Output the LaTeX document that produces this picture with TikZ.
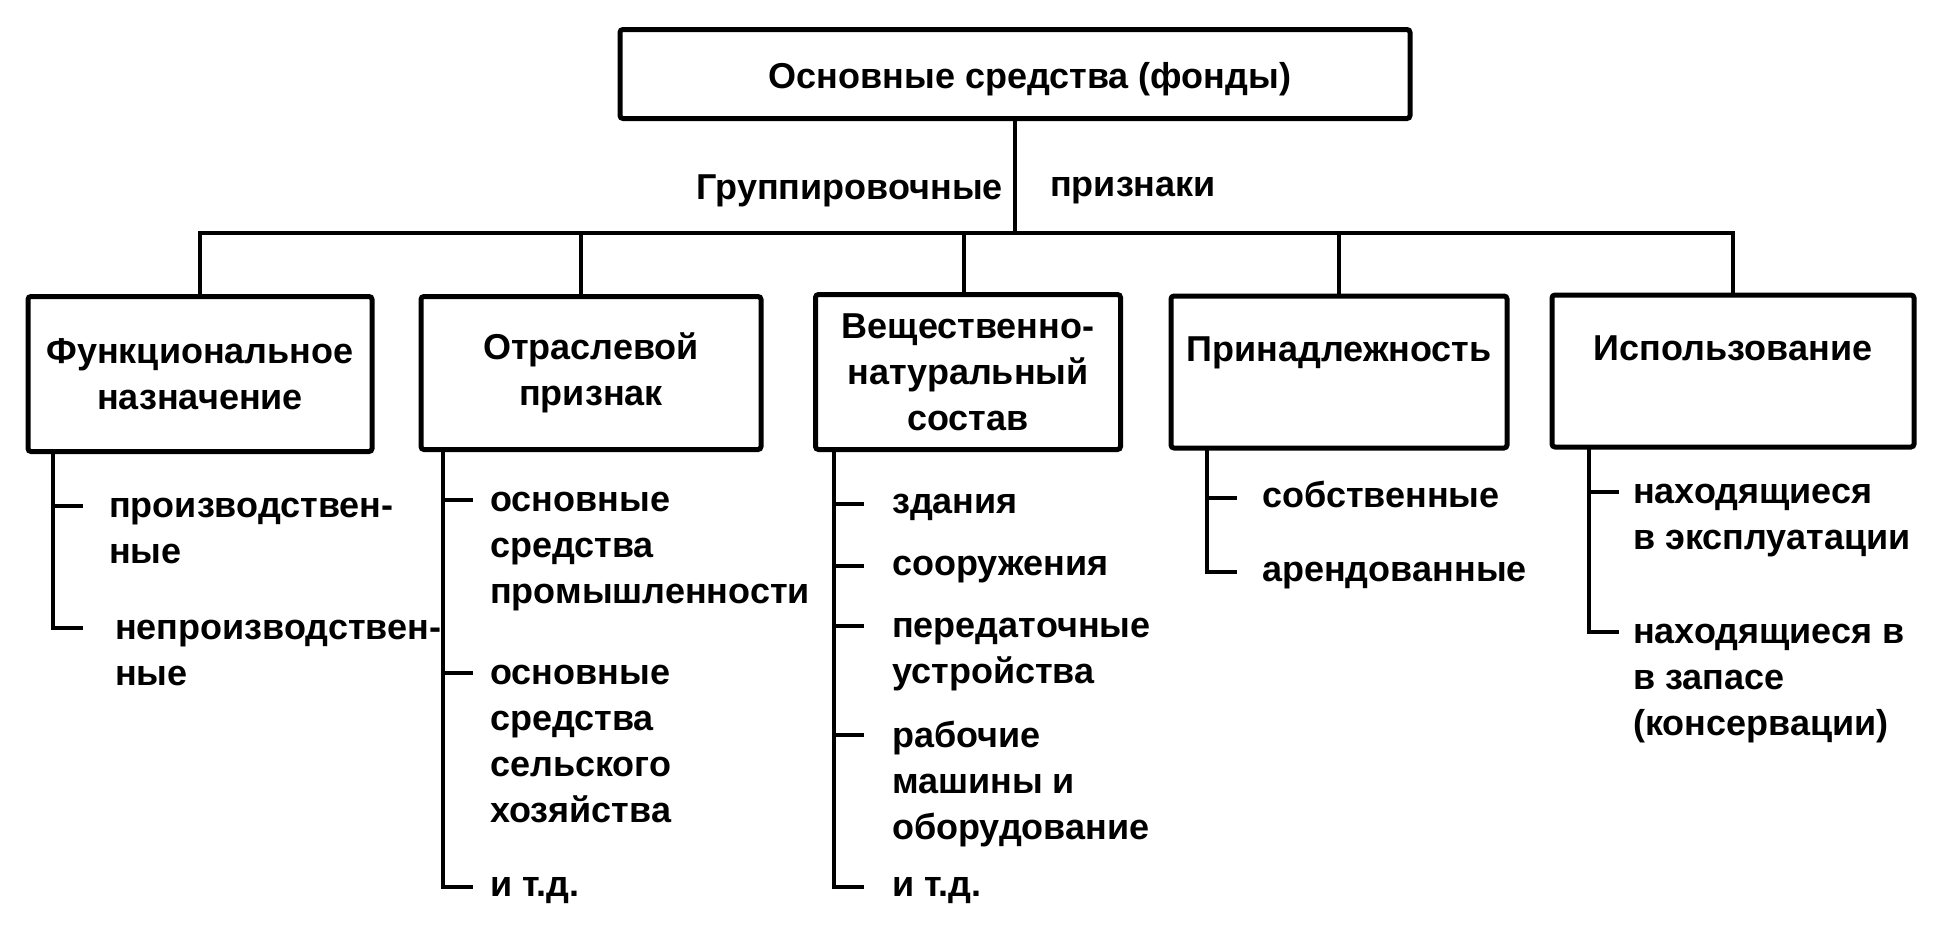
\documentclass[tikz,border=0pt]{standalone}
\usepackage{fontspec}
\setmainfont{Liberation Sans}

\begin{document}
\begin{tikzpicture}[x=1pt, y=-1pt]
	\tikzset{every node/.style = {inner sep=0pt, font=\bfseries\fontsize{36}{46}\selectfont},
		box/.style = {draw, line width=5pt, rounded corners=3pt, align=center},
		item/.style = {anchor=north west, align=left, execute at begin node=\strut},
		link/.style = {line width=3.5pt}}
	\useasboundingbox (0,0) rectangle (1936,926);
	\node[box, minimum width=790pt, minimum height=89pt] (root) at (1015,74) {\hspace*{30pt}\raisebox{-5pt}[\height][\depth]{Основные средства (фонды)}};
	\node[anchor=east] (grp) at (1003,191) {Группировочные};
	\node[anchor=west] (prz) at (1050,191) {признаки};
	\node[box, minimum width=344pt, minimum height=155pt] (f1) at (200,374) {Функциональное\\назначение};
	\node[box, minimum width=340pt, minimum height=153pt] (f2) at (591,373) {Отраслевой\\признак};
	\node[box, minimum width=305pt, minimum height=155pt] (f3) at (968,372) {Вещественно-\\натуральный\\состав};
	\node[box, minimum width=336pt, minimum height=152pt] (f4) at (1339,372) {Принадлежность\\\mbox{}};
	\node[box, minimum width=362pt, minimum height=152pt] (f5) at (1733,371) {Использование\\\mbox{}};
	\node[item] (i11) at (109,498) {производствен-\\ные};
	\node[item] (i12) at (115,620) {непроизводствен-\\ные};
	\node[item] (i21) at (490,492) {основные\\средства\\промышленности};
	\node[item] (i22) at (490,665) {основные\\средства\\сельского\\хозяйства};
	\node[item] (i23) at (490,864) {и т.д.};
	\node[item] (i31) at (892,481) {здания};
	\node[item] (i32) at (892,543) {сооружения};
	\node[item] (i33) at (892,618) {передаточные\\устройства};
	\node[item] (i34) at (892,721) {рабочие\\машины и\\оборудование};
	\node[item] (i35) at (892,864) {и т.д.};
	\node[item] (i41) at (1262,475) {собственные};
	\node[item] (i42) at (1262,549) {арендованные};
	\node[item] (i51) at (1633,484) {находящиеся\\в эксплуатации};
	\node[item] (i52) at (1633,624) {находящиеся в\\в запасе\\(консервации)};
	% grouping bus
	\coordinate (bus) at (1017,233);
	\draw[link] (root.south) -- (root.south |- bus);
	\draw[link] (f1.north) |- (bus) -| (f5.north);
	\draw[link] ([xshift=-10pt]f2.north) -- ([xshift=-10pt]f2.north |- bus);
	\draw[link] ([xshift=-4pt]f3.north) -- ([xshift=-4pt]f3.north |- bus);
	\draw[link] (f4.north) -- (f4.north |- bus);
	% branches under the boxes
	\coordinate (b1) at (53,452);
	\coordinate (b2) at (443,450);
	\coordinate (b3) at (834,450);
	\coordinate (b4) at (1207,448);
	\coordinate (b5) at (1589,447);
	\foreach \i in {23,31,32,35,41,42}
		\coordinate (t\i) at ([yshift=-23pt]i\i.north west);
	\foreach \i in {11,12,21,22,33,51,52}
		\coordinate (t\i) at ([yshift=-8pt]i\i.north west);
	\coordinate (t34) at ([yshift=-14pt]i34.north west);
	\draw[link] (b1) -- (b1 |- t12) -- ++(30pt,0);
	\draw[link] (b1 |- t11) -- ++(30pt,0);
	\draw[link] (b2) -- (b2 |- t23) -- ++(30pt,0);
	\draw[link] (b2 |- t21) -- ++(30pt,0);
	\draw[link] (b2 |- t22) -- ++(30pt,0);
	\draw[link] (b3) -- (b3 |- t35) -- ++(30pt,0);
	\draw[link] (b3 |- t31) -- ++(30pt,0);
	\draw[link] (b3 |- t32) -- ++(30pt,0);
	\draw[link] (b3 |- t33) -- ++(30pt,0);
	\draw[link] (b3 |- t34) -- ++(30pt,0);
	\draw[link] (b4) -- (b4 |- t42) -- ++(30pt,0);
	\draw[link] (b4 |- t41) -- ++(30pt,0);
	\draw[link] (b5) -- (b5 |- t52) -- ++(30pt,0);
	\draw[link] (b5 |- t51) -- ++(30pt,0);
\end{tikzpicture}
\end{document}
